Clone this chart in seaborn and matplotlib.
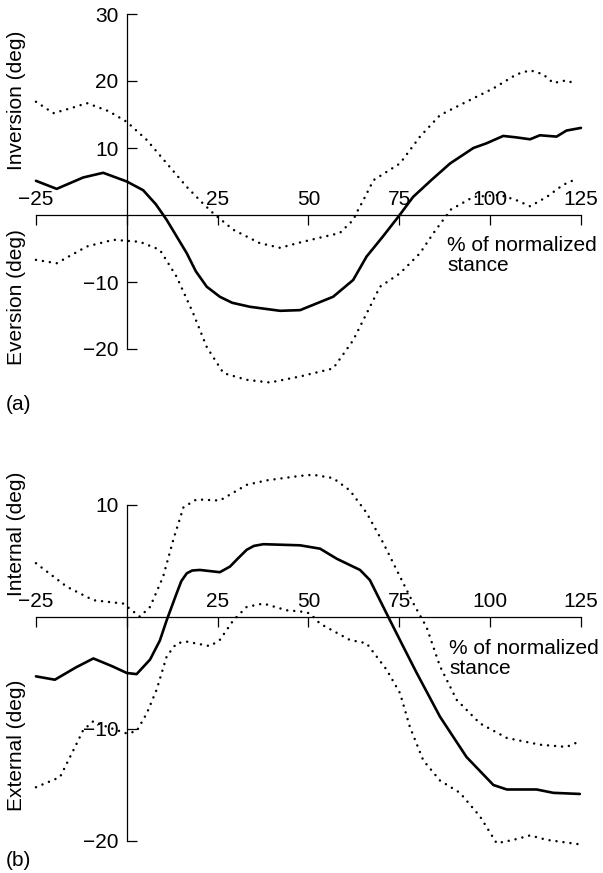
import matplotlib
matplotlib.use("Agg")
import matplotlib.pyplot as plt
import seaborn as sns

# panel (a): inversion / eversion
a_mean_x = [-25, -19.3, -12, -6.5, 0, 4.5, 8, 11, 16.5, 19, 22, 25.6, 29, 33.9, 42.2, 47.7, 56.8, 62.3,
            66, 70.5, 75.1, 78.8, 84, 89, 95.4, 99, 103.6, 107, 111, 113.7, 116, 118.3, 121, 125]
a_mean_y = [5.1, 3.9, 5.6, 6.3, 5.0, 3.7, 1.6, -0.75, -5.7, -8.4, -10.7, -12.2, -13.1, -13.7, -14.3, -14.2, -12.2, -9.7,
            -6.2, -3.2, 0, 2.7, 5.3, 7.7, 10.0, 10.7, 11.8, 11.6, 11.3, 11.9, 11.8, 11.7, 12.6, 13.0]
a_upper_x = [-25, -20.2, -15, -11, -5, 0, 5.5, 11, 16.5, 21, 23.8, 29.3, 36.6, 42.2, 47.7, 53, 58.6,
             62.3, 63.6, 65.1, 67.9, 75.2, 80.7, 86.2, 93.5, 100.9, 107.3, 111, 114.6, 117.4, 121, 122.9]
a_upper_y = [16.9, 15.2, 16.0, 16.7, 15.5, 13.9, 11.2, 7.7, 4.2, 1.7, 0.25, -2.2, -4.2, -4.9, -4.1, -3.4, -2.7,
             -0.75, 0.7, 2.2, 5.2, 7.7, 11.7, 14.9, 16.9, 18.9, 21.0, 21.6, 21.0, 19.7, 20.1, 19.7]
a_lower_x = [-25, -19.3, -11, -3.7, 3.6, 9.1, 13.7, 18.3, 22, 26.6, 33, 39.4, 47.7, 56.8, 62.3, 66,
             69.7, 75.2, 80.7, 84.4, 88.1, 89, 95.4, 102.7, 107.3, 111, 115.6, 120.1, 123.8]
a_lower_y = [-6.7, -7.2, -4.7, -3.7, -4.0, -5.2, -9.2, -14.7, -19.7, -23.6, -24.6, -25.0, -24.1, -22.9, -18.7, -14.7,
             -10.7, -8.7, -5.7, -2.7, 0, 0.75, 2.7, 3.0, 2.2, 1.3, 2.7, 4.5, 5.4]

# panel (b): internal / external rotation
b_mean_x = [-25, -19.8, -14, -9.2, -4, 0, 2.7, 6.4, 9.1, 11, 13.7, 15, 16.5, 18, 20.1, 25.6, 28.4, 30.5, 33,
            35, 37.6, 47.7, 53.2, 57.8, 64.2, 66.9, 72.4, 76.1, 79.8, 86.2, 93.5, 100.9, 104.6, 112.8, 117.4, 124.7]
b_mean_y = [-5.3, -5.6, -4.5, -3.7, -4.4, -5.0, -5.1, -3.8, -2.1, -0.27, 2.1, 3.2, 3.9, 4.15, 4.2, 4.0, 4.5, 5.2, 6.0,
            6.35, 6.5, 6.4, 6.1, 5.2, 4.2, 3.3, -0.27, -2.65, -5.0, -8.9, -12.5, -15.0, -15.4, -15.4, -15.7, -15.8]
b_upper_x = [-25, -16.5, -9.2, -1, 3.6, 6.4, 10, 12.8, 15.6, 19.2, 25.6, 33, 38.5, 47.7, 51.3, 56.8,
             61.4, 66, 70.6, 75.2, 78.9, 82.5, 86.2, 90.8, 97.2, 104.6, 113.7, 121, 124.7]
b_upper_y = [4.8, 2.7, 1.5, 1.2, 0.03, 0.9, 3.6, 6.9, 9.8, 10.5, 10.4, 11.8, 12.2, 12.6, 12.7, 12.4,
             11.3, 9.3, 6.6, 3.6, 1.2, -0.9, -4.4, -7.4, -9.5, -10.8, -11.4, -11.6, -11.1]
b_lower_x = [-25, -18.4, -14.7, -12, -9.2, -5.5, 0, 2.7, 5.5, 8.2, 11, 13.7, 16.5, 22.9, 25.6, 29.3, 33,
             37.6, 44, 47.7, 50.4, 53.2, 61.4, 66, 71.5, 75.2, 77.9, 81.6, 86.2, 91.7, 97.2, 101.8,
             106.4, 111, 115.6, 124.7]
b_lower_y = [-15.2, -14.3, -11.9, -10.1, -9.3, -9.8, -10.4, -10.2, -8.6, -6.5, -3.5, -2.35, -2.2, -2.6, -2.05, -0.3, 0.9,
             1.2, 0.6, 0.5, 0.33, -0.6, -2.05, -2.35, -4.7, -6.8, -9.8, -12.8, -14.6, -15.7, -17.8, -20.2,
             -19.9, -19.5, -19.9, -20.3]

x_ticks = [-25, 0, 25, 50, 75, 100, 125]
x_tick_labels = ["\u221225", "", "25", "50", "75", "100", "125"]
a_yticks = [-20, -10, 10, 20, 30]
b_yticks = [-20, -10, 10]

sns.set_style("white")
plt.rcParams['font.family'] = ['Liberation Sans', 'DejaVu Sans']
FS = 15

fig = plt.figure(figsize=(6.03, 8.73), dpi=100)
W, H = 603, 873
ax_a = fig.add_axes([0, 1 - 410 / H, 1, 410 / H])
ax_b = fig.add_axes([0, 0, 1, 453 / H])

dotted = dict(color="black", lw=1.8, linestyle=(0, (0.01, 2.8)), dash_capstyle="round")
solid = dict(color="black", lw=1.9)


def style_axes(ax, ylim, yticks, ybounds):
    ax.set_xlim(-34.9, 131.07)
    ax.set_ylim(*ylim)
    ax.set_facecolor("none")
    for s in ["right", "bottom"]:
        ax.spines[s].set_visible(False)
    ax.spines["top"].set_position(("data", 0))
    ax.spines["top"].set_bounds(-25, 125)
    ax.spines["left"].set_position(("data", 0))
    ax.spines["left"].set_bounds(*ybounds)
    for s in ["top", "left"]:
        ax.spines[s].set_color("black")
        ax.spines[s].set_linewidth(0.9)
    ax.xaxis.set_ticks_position("top")
    ax.yaxis.set_ticks_position("left")
    ax.set_xticks(x_ticks)
    ax.set_xticklabels(x_tick_labels)
    ax.set_yticks(yticks)
    ax.set_yticklabels([f"{t}".replace("-", "\u2212") for t in yticks])
    ax.tick_params(axis="x", which="major", top=True, bottom=False, labeltop=True, labelbottom=False,
                   direction="in", length=7.5, width=0.9, pad=4, labelsize=FS, colors="black")
    ax.tick_params(axis="y", which="major", left=True, right=False, labelleft=True,
                   direction="in", length=7.5, width=0.9, pad=6, labelsize=FS, colors="black")
    ax.set_xlabel("")
    ax.set_ylabel("")
    ax.grid(False)


sns.lineplot(x=a_upper_x, y=a_upper_y, ax=ax_a, **dotted)
sns.lineplot(x=a_lower_x, y=a_lower_y, ax=ax_a, **dotted)
sns.lineplot(x=a_mean_x, y=a_mean_y, ax=ax_a, **solid)
style_axes(ax_a, (-(410 - 215) / 6.7, 215 / 6.7), a_yticks, (-20, 30))

sns.lineplot(x=b_upper_x, y=b_upper_y, ax=ax_b, **dotted)
sns.lineplot(x=b_lower_x, y=b_lower_y, ax=ax_b, **dotted)
sns.lineplot(x=b_mean_x, y=b_mean_y, ax=ax_b, **solid)
style_axes(ax_b, (-(873 - 617) / 11.2, (617 - 420) / 11.2), b_yticks, (-20, 10))


def ftext(px, py, s, **kw):
    fig.text(px / W, 1 - py / H, s, fontsize=FS, color="black", **kw)


ftext(17, 100, "Inversion (deg)", rotation=90, ha="center", va="center")
ftext(17, 297, "Eversion (deg)", rotation=90, ha="center", va="center")
ftext(6, 405, "(a)", ha="left", va="center")
ftext(447, 236, "% of normalized\nstance", ha="left", va="top", linespacing=1.1)

ftext(17, 534, "Internal (deg)", rotation=90, ha="center", va="center")
ftext(17, 745, "External (deg)", rotation=90, ha="center", va="center")
ftext(6, 861, "(b)", ha="left", va="center")
ftext(449, 639, "% of normalized\nstance", ha="left", va="top", linespacing=1.1)

fig.savefig("out.png", dpi=100)
